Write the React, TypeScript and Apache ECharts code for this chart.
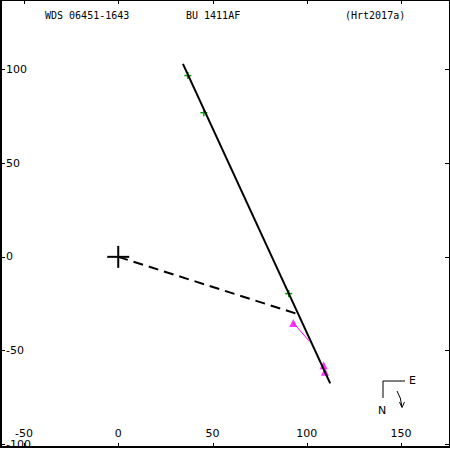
import React, { useEffect, useRef } from "react";
import * as echarts from "echarts";

const xTicks = [-50, 0, 50, 100, 150];
const yTicks = [-100, -50, 0, 50, 100];
const orbitLine = [[34.3, 102.8], [112.4, -67.4]];
const nodeLine = [[0, 0], [95.8, -30.7]];
const greenObs = [[36.9, 96.6], [45.4, 76.8], [90.4, -19.6]];
const magentaObs = [[92.8, -35.2], [108.9, -57.7], [109.6, -61.2]];
// observed point -> predicted point on orbit
const magentaResid = [[92.8, -35.2, 101.3, -44.9]];
const primary = [[0, 0]];
const titles = ["WDS 06451-1643", "BU 1411AF", "(Hrt2017a)"];

const X_MIN = -62.17, X_MAX = 175.93, Y_MIN = -101.3, Y_MAX = 136.87;

export default function App() {
  const ref = useRef<HTMLDivElement>(null);
  useEffect(() => {
    document.body.style.margin = "0";
    const chart = echarts.init(ref.current!, null, { renderer: "svg" });
    const mono = "DejaVu Sans Mono";
    const labelFont = "DejaVu Sans";
    const crossRender = (half: number, color: string, lw: number) => (params: any, api: any) => {
      const p = api.coord([api.value(0), api.value(1)]);
      return {
        type: "group",
        children: [
          { type: "line", shape: { x1: p[0] - half, y1: p[1], x2: p[0] + half, y2: p[1] }, style: { stroke: color, lineWidth: lw } },
          { type: "line", shape: { x1: p[0], y1: p[1] - half, x2: p[0], y2: p[1] + half }, style: { stroke: color, lineWidth: lw } },
        ],
      };
    };
    const edgeTick = (side: "top" | "bottom") => (params: any, api: any) => {
      const p = api.coord([api.value(0), api.value(1)]);
      const x = Math.round(p[0]) + 0.5;
      const y0 = side === "top" ? 0 : 448;
      const y1 = side === "top" ? 4 : 443;
      return { type: "line", shape: { x1: x, y1: y0, x2: x, y2: y1 }, style: { stroke: "#000", lineWidth: 1 } };
    };
    chart.setOption({
      animation: false,
      backgroundColor: "#fff",
      grid: { show: true, borderColor: "#000", borderWidth: 2, backgroundColor: "transparent", left: 1, right: -1, top: -1, bottom: 2 },
      xAxis: [
        {
          type: "value", min: X_MIN, max: X_MAX, position: "bottom",
          axisLine: { show: false, onZero: false },
          axisTick: { show: false },
          axisLabel: { show: true, inside: true, customValues: xTicks, margin: 8, color: "#000", fontSize: 11, fontFamily: labelFont },
          splitLine: { show: false },
        },
      ],
      yAxis: [
        {
          type: "value", min: Y_MIN, max: Y_MAX, position: "left",
          axisLine: { show: false, onZero: false },
          axisTick: { show: true, inside: true, length: 4, customValues: yTicks, lineStyle: { color: "#000" } },
          axisLabel: { show: true, inside: true, customValues: yTicks, margin: 5, color: "#000", fontSize: 11, fontFamily: labelFont },
          splitLine: { show: false },
        },
        {
          type: "value", min: Y_MIN, max: Y_MAX, position: "right",
          axisLine: { show: false, onZero: false },
          axisTick: { show: true, inside: true, length: 5, customValues: yTicks, lineStyle: { color: "#000" } },
          axisLabel: { show: false },
          splitLine: { show: false },
        },
      ],
      series: [
        {
          type: "custom", coordinateSystem: "cartesian2d", data: xTicks.map((v) => [v, 0]),
          encode: { x: 0, y: 1 }, clip: false, silent: true,
          renderItem: edgeTick("top"),
        },
        {
          type: "custom", coordinateSystem: "cartesian2d", data: xTicks.map((v) => [v, 0]),
          encode: { x: 0, y: 1 }, clip: false, silent: true,
          renderItem: edgeTick("bottom"),
        },
        {
          type: "line", data: orbitLine, symbol: "none",
          lineStyle: { color: "#000", width: 2 },
        },
        {
          type: "line", data: nodeLine, symbol: "none",
          lineStyle: { color: "#000", width: 2, type: [10, 6] },
        },
        {
          type: "custom", coordinateSystem: "cartesian2d", data: magentaResid,
          encode: { x: [0, 2], y: [1, 3] },
          renderItem: (params: any, api: any) => {
            const a = api.coord([api.value(0), api.value(1)]);
            const b = api.coord([api.value(2), api.value(3)]);
            return { type: "line", shape: { x1: a[0], y1: a[1], x2: b[0], y2: b[1] }, style: { stroke: "#ff00ff", lineWidth: 1 } };
          },
        },
        {
          type: "scatter", data: magentaObs, symbol: "triangle", symbolSize: 8,
          itemStyle: { color: "#ff00ff" },
        },
        {
          type: "custom", coordinateSystem: "cartesian2d", data: greenObs,
          encode: { x: 0, y: 1 },
          renderItem: crossRender(3.5, "#00a000", 1.5),
        },
        {
          type: "custom", coordinateSystem: "cartesian2d", data: primary,
          encode: { x: 0, y: 1 },
          renderItem: crossRender(11, "#000", 2),
        },
      ],
      graphic: [
        { type: "text", left: 45, top: 10, style: { text: titles[0], font: `10px '${mono}'`, fill: "#000" } },
        { type: "text", left: 186, top: 10, style: { text: titles[1], font: `10px '${mono}'`, fill: "#000" } },
        { type: "text", left: 345, top: 10, style: { text: titles[2], font: `10px '${mono}'`, fill: "#000" } },
        { type: "polyline", shape: { points: [[405, 381], [383, 381], [383, 398]] }, style: { stroke: "#000", lineWidth: 1, fill: null } },
        { type: "text", left: 409, top: 375, style: { text: "E", font: `11px '${labelFont}'`, fill: "#000" } },
        { type: "text", left: 378, top: 405, style: { text: "N", font: `11px '${labelFont}'`, fill: "#000" } },
        { type: "bezierCurve", shape: { x1: 397, y1: 391, x2: 402, y2: 407, cpx1: 401, cpy1: 397 }, style: { stroke: "#000", lineWidth: 1, fill: null } },
        { type: "polyline", shape: { points: [[399.5, 402], [402, 407.5], [404.5, 402]] }, style: { stroke: "#000", lineWidth: 1, fill: null } },
      ],
    });
    return () => chart.dispose();
  }, []);
  return <div ref={ref} style={{ position: "absolute", left: 0, top: 0, width: 450, height: 450 }} />;
}
